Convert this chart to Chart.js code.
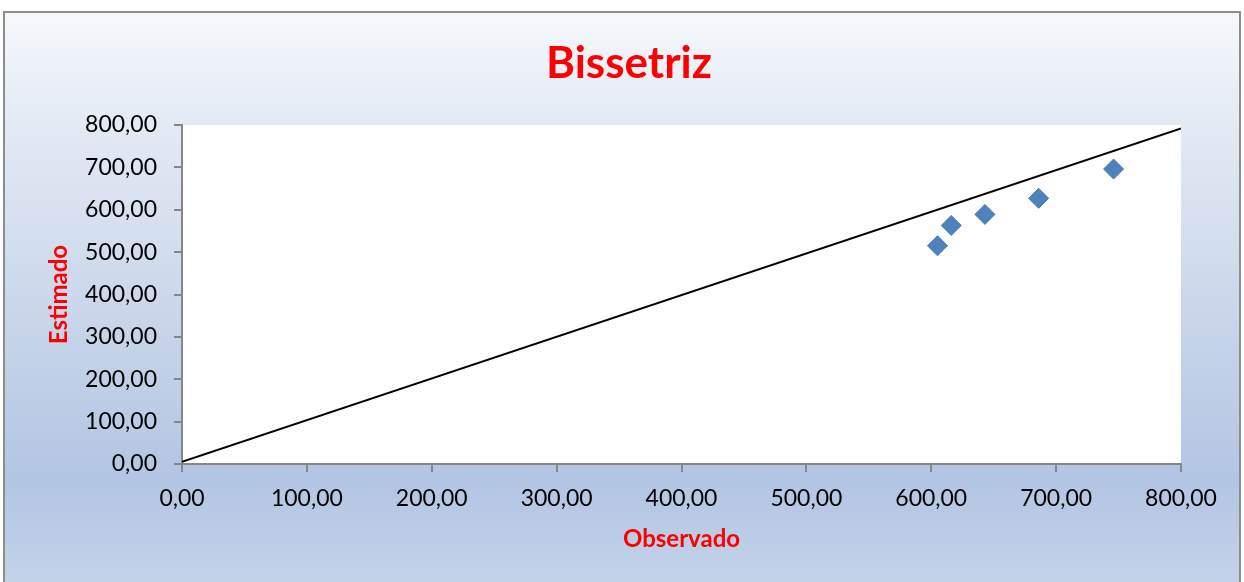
<!DOCTYPE html>
<html>
<head>
<meta charset="utf-8">
<script src="https://cdn.jsdelivr.net/npm/chart.js@4"></script>
<style>
  html, body { margin: 0; padding: 0; width: 1244px; height: 582px; overflow: hidden; background: #fff; }
  #frame {
    position: absolute; left: 3px; top: 11px; width: 1234px; height: 600px;
    border: 2px solid #8c8c8c;
    background: linear-gradient(to bottom, #f6f8fc 0%, #e2e9f3 20%, #b2c5e3 78%, #c8d7eb 100%);
  }
  #wrap { position: absolute; left: 0; top: 0; width: 1244px; height: 582px; }
</style>
</head>
<body>
<div id="frame"></div>
<div id="wrap"><canvas id="chartjs" width="1244" height="582"></canvas></div>
<script>
const ctx = document.getElementById("chartjs");

// observed vs estimated
const observado = [605, 616, 643, 686, 746];
const estimado = [515, 563, 589, 627, 696];

// bisector line as drawn
const lineX = [0, 800];
const lineY = [5, 792];

const axisMin = 0;
const axisMax = 800;
const axisStep = 100;

const chartTitle = 'Bissetriz';

const pointData = observado.map((x, i) => ({ x: x, y: estimado[i] }));
const lineData = lineX.map((x, i) => ({ x: x, y: lineY[i] }));

const fmt = v => Number(v).toFixed(2).replace('.', ',');
const axisGray = '#868686';
const red = '#ff0000';
const fontFam = 'Lato, "Open Sans", sans-serif';

// plot area white fill + title centred on the frame
const plotBg = {
    id: 'plotBg',
    beforeDraw(chart) {
        const a = chart.chartArea;
        const c = chart.ctx;
        c.save();
        c.fillStyle = '#ffffff';
        c.fillRect(a.left, a.top, a.right - a.left, a.bottom - a.top);
        c.restore();
    },
    afterDraw(chart) {
        const c = chart.ctx;
        c.save();
        c.fillStyle = red;
        c.font = 'bold 44px ' + fontFam;
        c.textAlign = 'center';
        c.textBaseline = 'middle';
        c.fillText(chartTitle, 629, 64);
        c.restore();
    }
};

const chart = new Chart(ctx, {
    type: 'scatter',
    data: {
        datasets: [{
            label: 'Bissetriz',
            data: lineData,
            showLine: true,
            borderColor: '#000000',
            borderWidth: 2,
            pointRadius: 0,
            fill: false,
            order: 2
        }, {
            label: 'Estimado',
            data: pointData,
            pointStyle: 'rectRot',
            pointRadius: 10,
            pointHoverRadius: 10,
            backgroundColor: '#4f81bd',
            borderColor: '#4a7ab5',
            borderWidth: 1,
            order: 1
        }]
    },
    options: {
        responsive: false,
        animation: false,
        layout: { padding: { left: 42, right: 63, top: 125, bottom: 24 } },
        plugins: {
            legend: { display: false },
            tooltip: { enabled: false },
            title: { display: false }
        },
        scales: {
            x: {
                type: 'linear',
                min: axisMin,
                max: axisMax,
                afterFit(scale) { scale.height = 94; },
                ticks: {
                    stepSize: axisStep,
                    color: '#000',
                    font: { family: fontFam, size: 23 },
                    padding: 13,
                    maxRotation: 0,
                    callback: v => fmt(v)
                },
                grid: { drawOnChartArea: false, drawTicks: true, tickLength: 8, color: axisGray, lineWidth: 2 },
                border: { display: true, color: axisGray, width: 2 },
                title: {
                    display: true,
                    text: 'Observado',
                    color: red,
                    font: { family: fontFam, size: 24, weight: 'bold' },
                    padding: { top: 4, bottom: 4 }
                }
            },
            y: {
                type: 'linear',
                min: axisMin,
                max: axisMax,
                afterFit(scale) { scale.width = 140; },
                ticks: {
                    stepSize: axisStep,
                    color: '#000',
                    font: { family: fontFam, size: 23 },
                    padding: 17,
                    callback: v => fmt(v)
                },
                grid: { drawOnChartArea: false, drawTicks: true, tickLength: 8, color: axisGray, lineWidth: 2 },
                border: { display: true, color: axisGray, width: 2 },
                title: {
                    display: true,
                    text: 'Estimado',
                    color: red,
                    font: { family: fontFam, size: 24, weight: 'bold' },
                    padding: { top: 3, bottom: 4 }
                }
            }
        }
    },
    plugins: [plotBg]
});
</script>
</body>
</html>
